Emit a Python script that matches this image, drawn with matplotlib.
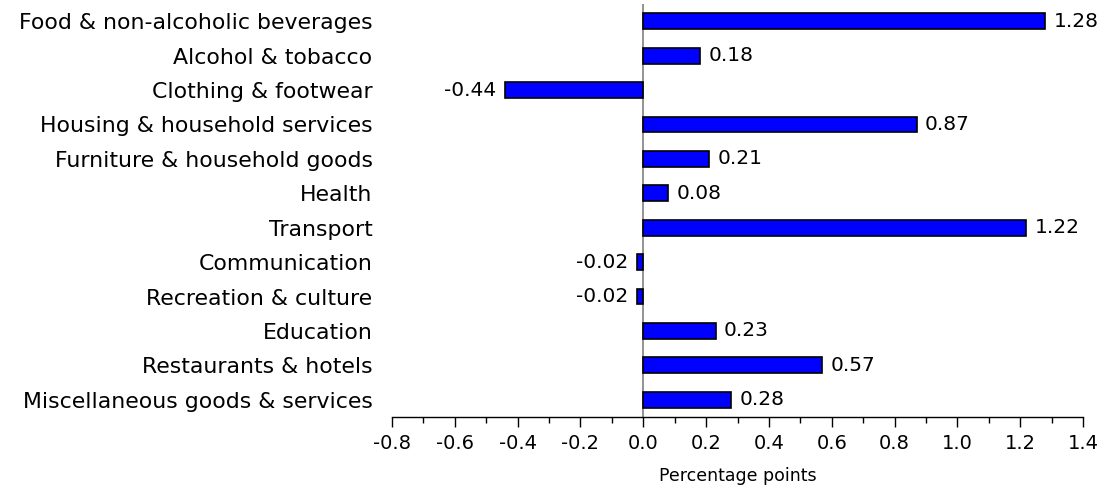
import matplotlib
matplotlib.use("Agg")
import matplotlib.pyplot as plt
from matplotlib.ticker import MultipleLocator

categories = [
    "Food & non-alcoholic beverages",
    "Alcohol & tobacco",
    "Clothing & footwear",
    "Housing & household services",
    "Furniture & household goods",
    "Health",
    "Transport",
    "Communication",
    "Recreation & culture",
    "Education",
    "Restaurants & hotels",
    "Miscellaneous goods & services",
]
values = [1.28, 0.18, -0.44, 0.87, 0.21, 0.08, 1.22, -0.02, -0.02, 0.23, 0.57, 0.28]
xticks = [-0.8, -0.6, -0.4, -0.2, 0.0, 0.2, 0.4, 0.6, 0.8, 1.0, 1.2, 1.4]
xlabel = "Percentage points"

plt.rcParams['font.family'] = ['DejaVu Sans']

fig = plt.figure(figsize=(11.05, 4.86), dpi=100)
ax = fig.add_axes([392/1105, 1-417/486, (1083-392)/1105, (417-4)/486])

y = list(range(len(categories)))
ax.barh(y, values, height=0.46, color='#0000FF', edgecolor='black', linewidth=1.2, zorder=3)
ax.axvline(0, color='#808080', linewidth=1.2, zorder=2)

for yi, v in zip(y, values):
    if v >= 0:
        ax.text(v + 0.027, yi, f"{v:.2f}", va='center', ha='left', fontsize=14.5)
    else:
        ax.text(v - 0.027, yi, f"{v:.2f}", va='center', ha='right', fontsize=14.5)

ax.set_ylim(len(categories) - 0.5, -0.5)
ax.set_xlim(-0.8, 1.4)
ax.set_xticks(xticks)
ax.set_xticklabels([f"{t:.1f}" for t in xticks], fontsize=14)
ax.xaxis.set_minor_locator(MultipleLocator(0.1))
ax.tick_params(axis='x', which='major', direction='out', length=7, width=1, pad=5)
ax.tick_params(axis='x', which='minor', direction='out', length=4, width=1)
ax.set_yticks(y)
ax.set_yticklabels(categories, fontsize=15.8)
ax.tick_params(axis='y', length=0, pad=14)
for s in ['top', 'right', 'left']:
    ax.spines[s].set_visible(False)
ax.spines['bottom'].set_linewidth(1)
ax.set_xlabel(xlabel, fontsize=12.5, labelpad=10)

fig.savefig('out.png', dpi=100)
